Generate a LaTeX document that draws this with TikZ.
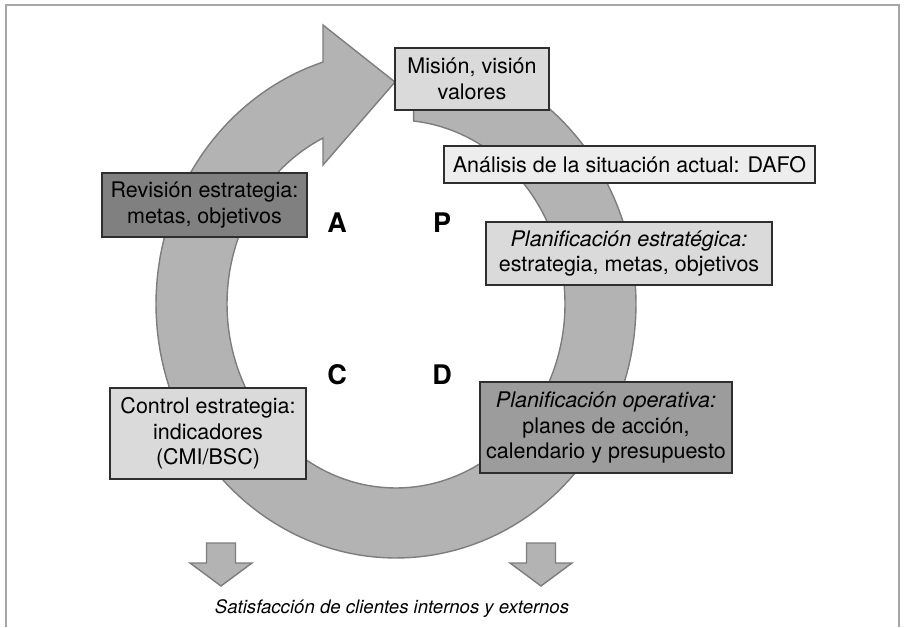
\documentclass[tikz,border=0pt]{standalone}
\usepackage{fontspec}
\setmainfont{TeX Gyre Heros}
\definecolor{ringgray}{HTML}{B3B3B3}
\definecolor{ringedge}{HTML}{7D7D7D}
\definecolor{framegray}{HTML}{A6A6A6}
\definecolor{boxedge}{HTML}{2E2E2E}
\definecolor{boxpale}{HTML}{EDEDED}
\definecolor{boxlight}{HTML}{DADADA}
\definecolor{boxmid}{HTML}{9C9C9C}
\definecolor{boxdark}{HTML}{808080}
\begin{document}
\begin{tikzpicture}[x=1pt,y=-1pt,
  band/.style={fill=ringgray, draw=ringedge, line width=1.4pt, line join=miter},
  labelbox/.style={draw=boxedge, line width=1.1pt, align=center, inner sep=0pt,
    font=\fontsize{21.5}{25.5}\selectfont},
  phase/.style={font=\fontsize{27}{30}\selectfont\bfseries, anchor=base, inner sep=0pt},
  outcome/.style={font=\fontsize{18.6}{22}\selectfont\itshape, inner sep=0pt},
]
\useasboundingbox (0,0) rectangle (905,627);

% open frame (no bottom edge)
\draw[framegray, line width=2.3pt] (6,627) -- (6,4.7) -- (899,4.7) -- (899,627);

% circular arrow: outer ellipse clockwise from the tail, arrowhead, inner ellipse back
\draw[band]
  plot[domain=86:-252.3, samples=160] ({396+240*cos(\x)},{304-254*sin(\x)})
  -- (323,25) -- (395,82) -- (323,165)
  -- plot[domain=-244.4:84, samples=160] ({396+169*cos(\x)},{304-184*sin(\x)})
  -- cycle;

% downward arrows
\draw[band] (206.5,543) -- (235.5,543) -- (235.5,563) -- (252,563) -- (221,586)
  -- (190,563) -- (206.5,563) -- cycle;
\draw[band] (526.5,543) -- (555.5,543) -- (555.5,563) -- (572,563) -- (541,586)
  -- (510,563) -- (526.5,563) -- cycle;

% boxes
\node[labelbox, fill=boxlight, minimum width=154pt, minimum height=62pt]
  (mision) at (472,79) {Misión, visión\\valores};
\node[labelbox, fill=boxpale, minimum width=371pt, minimum height=37pt]
  (analisis) at (629.5,164.5) {Análisis de la situación actual: DAFO};
\node[labelbox, fill=boxdark, minimum width=205pt, minimum height=64pt]
  (revision) at (204.5,205) {Revisión estrategia:\\metas, objetivos};
\node[labelbox, fill=boxlight, minimum width=286pt, minimum height=63pt]
  (planest) at (629,253.5) {{\itshape Planificación estratégica:}\\estrategia, metas, objetivos};
\node[labelbox, fill=boxlight, minimum width=196pt, minimum height=91pt]
  (control) at (208,433.5) {Control estrategia:\\indicadores\\(CMI/BSC)};
\node[labelbox, fill=boxmid, minimum width=252pt, minimum height=91pt]
  (planop) at (606,427.5) {{\itshape Planificación operativa:}\\planes de acción,\\calendario y presupuesto};

% PDCA letters
\node[phase] (la) at (337,232) {A};
\node[phase] (lp) at (442,232) {P};
\node[phase] (lc) at (337,384) {C};
\node[phase] (ld) at (442,384) {D};

% outcome caption
\node[outcome] (sat) at (392,609) {Satisfacción de clientes internos y externos};
\end{tikzpicture}
\end{document}
